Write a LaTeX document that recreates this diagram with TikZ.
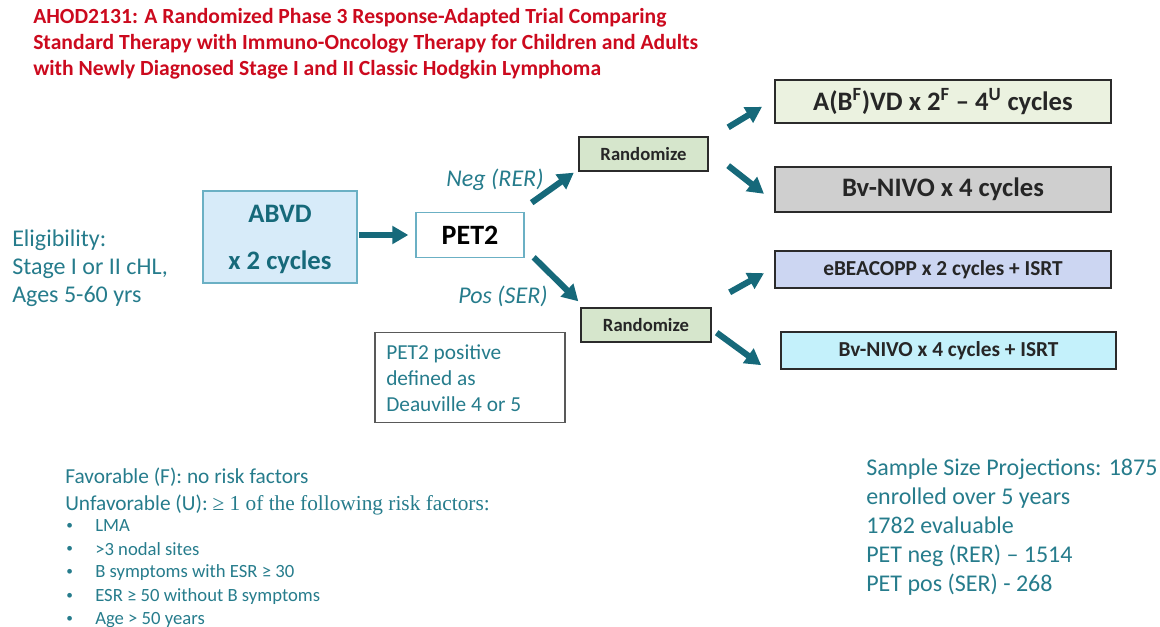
\documentclass[tikz,border=0pt]{standalone}
\usepackage{fontspec}
\setmainfont{Carlito}
\newfontfamily\timesfont{Liberation Serif}
\usetikzlibrary{arrows.meta,calc}
\definecolor{tealtxt}{HTML}{267C8C}
\definecolor{tealarr}{HTML}{16697A}
\definecolor{titlered}{HTML}{CC0A1E}
\definecolor{abvdfill}{HTML}{D7EBF9}
\definecolor{abvdline}{HTML}{6BB0C4}
\definecolor{randfill}{HTML}{D6E6CC}
\definecolor{boxA}{HTML}{EBF2E0}
\definecolor{boxB}{HTML}{CFCFCF}
\definecolor{boxC}{HTML}{CCD6F2}
\definecolor{boxD}{HTML}{C4F1FB}
\definecolor{boxline}{HTML}{2B2B2B}
\begin{document}
\begin{tikzpicture}[x=0.75pt,y=-0.75pt,
  bigarrow/.style={tealarr,line width=4.6pt,-{Triangle[length=12pt,width=13pt]}},
  randbox/.style={draw=boxline,line width=1.5pt,fill=randfill,minimum width=97pt,minimum height=25pt,inner sep=0pt,font=\bfseries\fontsize{14}{16}\selectfont,text=black!85},
  armbox/.style={draw=boxline,line width=1.5pt,inner sep=0pt,text=black!85},
  tealtext/.style={text=tealtxt,inner sep=0pt}]
\useasboundingbox (0,0) rectangle (1160,627);
% title
\node[anchor=north west,inner sep=0pt,text=titlered,align=left,font=\bfseries\fontsize{16.2}{19.5}\selectfont] (title) at (33,8)
 {AHOD2131: A Randomized Phase 3 Response-Adapted Trial Comparing\\
  Standard Therapy with Immuno-Oncology Therapy for Children and Adults\\
  with Newly Diagnosed Stage I and II Classic Hodgkin Lymphoma};
% eligibility
\node[tealtext,anchor=west,align=left,font=\fontsize{18}{21}\selectfont] (elig) at (12,268)
 {Eligibility:\\Stage I or II cHL,\\Ages 5-60 yrs};
% ABVD
\node[draw=abvdline,line width=1pt,fill=abvdfill,minimum width=115.5pt,minimum height=69pt,inner sep=0pt] (abvd) at (280,237) {};
\node[text=tealarr,font=\bfseries\fontsize{20}{24}\selectfont,inner sep=0pt] (abvdt1) at (280,214) {ABVD};
\node[text=tealarr,font=\bfseries\fontsize{20}{24}\selectfont,inner sep=0pt] (abvdt2) at (280,262) {x 2 cycles};
% PET2
\node[draw=abvdline,line width=1pt,fill=white,minimum width=81pt,minimum height=34pt,inner sep=0pt,font=\bfseries\fontsize{21}{24}\selectfont] (pet) at (470,235) {PET2};
% randomize
\node[randbox] (rtop) at (643.5,154) {Randomize};
\node[randbox] (rbot) at (646,325) {Randomize};
% arms
\node[armbox,fill=boxA,minimum width=252pt,minimum height=32pt,font=\bfseries\fontsize{20}{24}\selectfont] (armA) at (943,101.5) {A(B\textsuperscript{F})VD x 2\textsuperscript{F} -- 4\textsuperscript{U} cycles};
\node[armbox,fill=boxB,minimum width=252pt,minimum height=33.5pt,font=\bfseries\fontsize{20}{24}\selectfont] (armB) at (943,189.5) {Bv-NIVO x 4 cycles};
\node[armbox,fill=boxC,minimum width=252pt,minimum height=28pt,font=\bfseries\fontsize{16}{19}\selectfont] (armC) at (943,269.5) {eBEACOPP x 2 cycles + ISRT};
\node[armbox,fill=boxD,minimum width=251pt,minimum height=28pt,font=\bfseries\fontsize{16}{19}\selectfont] (armD) at (948.5,350.5) {Bv-NIVO x 4 cycles + ISRT};
% arrows
\draw[bigarrow] ($(abvd.east)+(1,-2)$) -- ($(pet.west)+(-7,0)$);
\draw[bigarrow] ($(pet.north east)+(7,-9)$) -- ($(rtop.south west)+(-4,1)$);
\draw[bigarrow] ($(pet.south east)+(9,-1)$) -- ($(rbot.north west)+(-2,-6)$);
\draw[bigarrow] ($(rtop.north east)+(19,-9)$) -- ($(armA.south west)+(-12,-17)$);
\draw[bigarrow] ($(rtop.south east)+(19,-6)$) -- ($(armB.south west)+(-10,-19)$);
\draw[bigarrow] ($(rbot.north east)+(18,-15)$) -- ($(armC.south west)+(-10,-16)$);
\draw[bigarrow] ($(rbot.south east)+(5,-10)$) -- ($(armD.south west)+(-19,-5)$);
% branch labels
\node[tealtext,font=\itshape\fontsize{18}{21}\selectfont] (neg) at (495,180) {Neg (RER)};
\node[tealtext,font=\itshape\fontsize{18}{21}\selectfont] (pos) at (503,296) {Pos (SER)};
% PET2 positive box
\node[draw=black!65,line width=0.8pt,minimum width=142.5pt,minimum height=67pt,inner sep=0pt] (defbox) at (470,377.5) {};
\node[tealtext,anchor=west,align=left,font=\fontsize{16}{19.5}\selectfont] (deftext) at (386,378) {PET2 positive\\defined as\\Deauville 4 or 5};
% risk factors
\node[tealtext,anchor=west,font=\fontsize{16}{19}\selectfont] (fav) at (65,477) {Favorable (F): no risk factors};
\node[tealtext,anchor=west,font=\fontsize{16}{19}\selectfont] (unfav) at (65,505) {Unfavorable (U): {\timesfont ≥ 1 of the following risk factors:}};
\foreach \t [count=\i] in {LMA,>3 nodal sites,B symptoms with ESR ≥ 30,ESR ≥ 50 without B symptoms,Age > 50 years}{
  \node[tealtext,anchor=west,font=\fontsize{10}{12}\selectfont] (bul\i) at (66,{526+23.4*(\i-1)}) {\textbullet};
  \node[tealtext,anchor=west,font=\fontsize{14}{16}\selectfont] (risk\i) at (95,{526+23.4*(\i-1)}) {\t};
}
% sample size
\node[tealtext,anchor=north west,align=left,font=\fontsize{18}{21.6}\selectfont] (sample) at (866,459)
 {Sample Size Projections: 1875\\enrolled over 5 years\\1782 evaluable\\PET neg (RER) -- 1514\\PET pos (SER) - 268};
\end{tikzpicture}
\end{document}
